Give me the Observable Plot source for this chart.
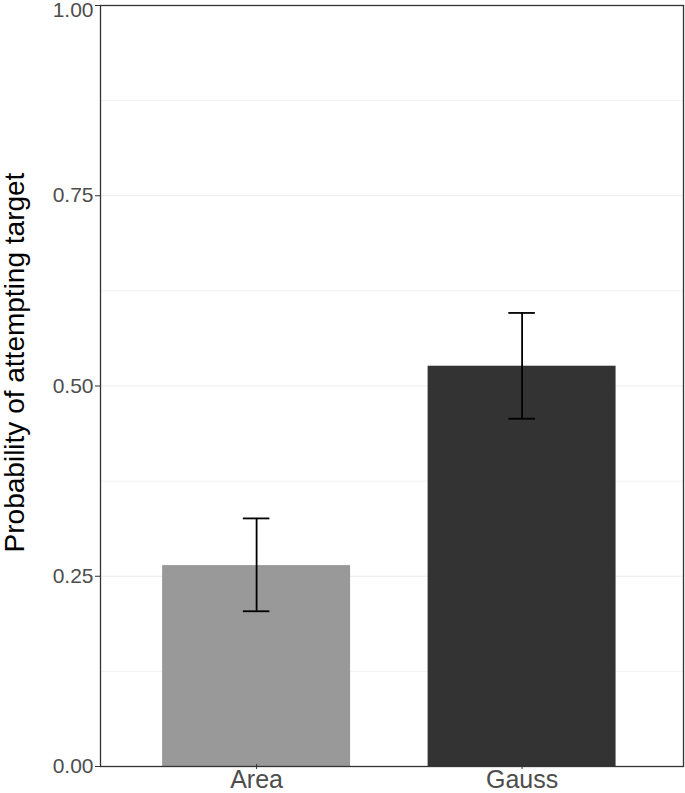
<!DOCTYPE html>
<html>
<head>
<meta charset="utf-8">
<script src="https://cdn.jsdelivr.net/npm/d3@7"></script>
<script src="https://cdn.jsdelivr.net/npm/@observablehq/plot@0.6"></script>
<style>
  html, body { margin: 0; padding: 0; background: #fff; }
  #chart svg { display: block; overflow: visible; }
</style>
</head>
<body>
<div id="chart"></div>
<script>
const categories = ["Area", "Gauss"];
const means = [0.264, 0.526];
const lower = [0.204, 0.457];
const upper = [0.326, 0.596];
const barColors = ["#999999", "#333333"];
const yTicks = [0, 0.25, 0.5, 0.75, 1];
const yMinorTicks = [0.125, 0.375, 0.625, 0.875];
const yTitle = "Probability of attempting target";

const data = categories.map((c, i) => ({
  cat: c, pos: i + 1, mean: means[i], lo: lower[i], hi: upper[i]
}));

const barHalf = 0.354;
const capHalf = 0.05;
const fmt = d3.format(".2f");

const chart = Plot.plot({
  width: 685,
  height: 793,
  marginLeft: 100,
  marginRight: 2,
  marginTop: 5,
  marginBottom: 27,
  style: { fontFamily: "'Liberation Sans', Arial, Helvetica, sans-serif", background: "#fff" },
  x: { domain: [0.412, 2.608], axis: null },
  y: { domain: [0, 1], axis: null },
  color: { domain: categories, range: barColors },
  marks: [
    Plot.ruleY(yMinorTicks, { stroke: "#ebebeb", strokeWidth: 0.7 }),
    Plot.ruleY(yTicks, { stroke: "#ebebeb", strokeWidth: 1.1 }),
    Plot.rectY(data, {
      x1: d => d.pos - barHalf, x2: d => d.pos + barHalf,
      y1: 0, y2: "mean", fill: "cat"
    }),
    Plot.ruleX(data, { x: "pos", y1: "lo", y2: "hi", stroke: "#000", strokeWidth: 1.8 }),
    Plot.ruleY(data, { y: "hi", x1: d => d.pos - capHalf, x2: d => d.pos + capHalf, stroke: "#000", strokeWidth: 1.8 }),
    Plot.ruleY(data, { y: "lo", x1: d => d.pos - capHalf, x2: d => d.pos + capHalf, stroke: "#000", strokeWidth: 1.8 }),
    Plot.frame({ stroke: "#333", strokeWidth: 1.3 }),
    Plot.axisY({
      ticks: yTicks, text: null, tickSize: 5, stroke: "#333", label: null
    }),
    Plot.axisY({
      ticks: yTicks.slice(0, -1), tickFormat: fmt, tickSize: 5, tickPadding: 2,
      stroke: "none", fill: "#4d4d4d", fontSize: 21, label: null
    }),
    Plot.axisY({
      ticks: yTicks.slice(-1), tickFormat: fmt, tickSize: 5, tickPadding: 2, dy: 4.5,
      stroke: "none", fill: "#4d4d4d", fontSize: 21, label: null
    }),
    Plot.axisX({
      ticks: data.map(d => d.pos), tickFormat: p => categories[p - 1],
      tickSize: 5, tickPadding: 1, dy: -2, stroke: "#333", fill: "#4d4d4d", fontSize: 25, label: null
    }),
    Plot.text([yTitle], {
      frameAnchor: "left", rotate: -90, textAnchor: "middle",
      dx: -85.7, dy: -23.5, fontSize: 28, fill: "#000"
    })
  ]
});

document.getElementById("chart").appendChild(chart);
</script>
</body>
</html>
